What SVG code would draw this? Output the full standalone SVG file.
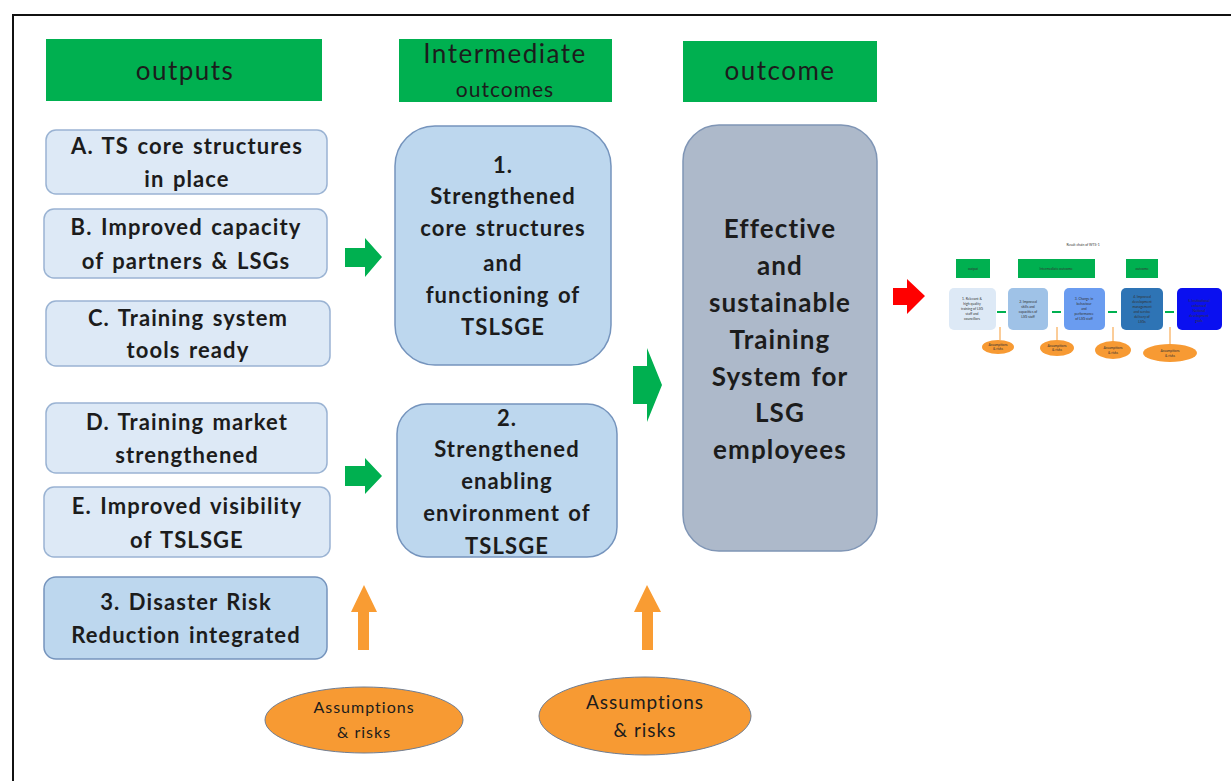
<svg xmlns="http://www.w3.org/2000/svg" width="1231" height="781" viewBox="0 0 1231 781">
  <style>
    .hdr { fill: #00b050; }
    .t { font-family: Lato, "Liberation Sans", sans-serif; fill: #1c1c1c; text-anchor: middle; }
    .b { font-weight: bold; letter-spacing: 1.1px; word-spacing: 2px; }
    .h { font-size: 26px; letter-spacing: 1.5px; }
    .out { fill: #dde9f6; stroke: #9ab3d3; stroke-width: 1.5; }
    .mid { fill: #bdd7ee; stroke: #7594bd; stroke-width: 1.5; }
    .gry { fill: #adb9ca; stroke: #7f95b5; stroke-width: 1.5; }
    .risk { fill: #f79a33; stroke: #6f7d92; stroke-width: 1; }
    .garrow { fill: #00b050; }
    .oarrow { fill: #f99c33; }
    .mini { font-family: Lato, "Liberation Sans", sans-serif; fill: #333; text-anchor: middle; font-size: 3.4px; }
  </style>

  <!-- frame -->
  <rect x="13" y="15" width="1230" height="780" fill="#fff" stroke="#111" stroke-width="2"/>

  <!-- column headers -->
  <g id="hdr-outputs">
    <rect class="hdr" x="46" y="39" width="276" height="62"/>
    <text class="t h" x="185" y="80">outputs</text>
  </g>
  <g id="hdr-intermediate">
    <rect class="hdr" x="399" y="39" width="213" height="63"/>
    <text class="t h" x="505" y="63">Intermediate</text>
    <text class="t" x="505" y="97" font-size="21" fill="#2a2a2a" letter-spacing="1">outcomes</text>
  </g>
  <g id="hdr-outcome">
    <rect class="hdr" x="683" y="41" width="194" height="61"/>
    <text class="t h" x="780" y="80">outcome</text>
  </g>

  <!-- outputs -->
  <g id="out-a">
    <rect class="out" x="46" y="130" width="281" height="64" rx="10"/>
    <text class="t b" x="187" y="154" font-size="22">A. TS core structures</text>
    <text class="t b" x="187" y="187" font-size="22">in place</text>
  </g>
  <g id="out-b">
    <rect class="out" x="44" y="209" width="283" height="69" rx="10"/>
    <text class="t b" x="186" y="235" font-size="22">B. Improved capacity</text>
    <text class="t b" x="186" y="269" font-size="22">of partners &amp; LSGs</text>
  </g>
  <g id="out-c">
    <rect class="out" x="46" y="301" width="284" height="65" rx="10"/>
    <text class="t b" x="188" y="326" font-size="22">C. Training system</text>
    <text class="t b" x="188" y="358" font-size="22">tools ready</text>
  </g>
  <g id="out-d">
    <rect class="out" x="46" y="403" width="281" height="70" rx="10"/>
    <text class="t b" x="187" y="430" font-size="22">D. Training market</text>
    <text class="t b" x="187" y="463" font-size="22">strengthened</text>
  </g>
  <g id="out-e">
    <rect class="out" x="44" y="487" width="286" height="70" rx="10"/>
    <text class="t b" x="187" y="514" font-size="22">E. Improved visibility</text>
    <text class="t b" x="187" y="548" font-size="22">of TSLSGE</text>
  </g>
  <g id="out-drr">
    <rect class="mid" x="44" y="577" width="283" height="82" rx="12"/>
    <text class="t b" x="186" y="610" font-size="22">3. Disaster Risk</text>
    <text class="t b" x="186" y="643" font-size="22">Reduction integrated</text>
  </g>

  <!-- intermediate outcomes -->
  <g id="im-1">
    <rect class="mid" x="395" y="126" width="216" height="239" rx="40"/>
    <text class="t b" x="503" y="173" font-size="22">1.</text>
    <text class="t b" x="503" y="204" font-size="22">Strengthened</text>
    <text class="t b" x="503" y="236" font-size="22">core structures</text>
    <text class="t b" x="503" y="271" font-size="22">and</text>
    <text class="t b" x="503" y="303" font-size="22">functioning of</text>
    <text class="t b" x="503" y="335" font-size="22">TSLSGE</text>
  </g>
  <g id="im-2">
    <rect class="mid" x="397" y="404" width="220" height="153" rx="30"/>
    <text class="t b" x="507" y="426" font-size="22">2.</text>
    <text class="t b" x="507" y="457" font-size="22">Strengthened</text>
    <text class="t b" x="507" y="489" font-size="22">enabling</text>
    <text class="t b" x="507" y="521" font-size="22">environment of</text>
    <text class="t b" x="507" y="554" font-size="22">TSLSGE</text>
  </g>

  <!-- outcome -->
  <g id="outcome">
    <rect class="gry" x="683" y="125" width="194" height="426" rx="36"/>
    <text class="t b" x="780" y="238" font-size="26">Effective</text>
    <text class="t b" x="780" y="275" font-size="26">and</text>
    <text class="t b" x="780" y="312" font-size="26">sustainable</text>
    <text class="t b" x="780" y="349" font-size="26">Training</text>
    <text class="t b" x="780" y="386" font-size="26">System for</text>
    <text class="t b" x="780" y="422" font-size="26">LSG</text>
    <text class="t b" x="780" y="459" font-size="26">employees</text>
  </g>

  <!-- assumptions -->
  <g id="risk-1">
    <ellipse class="risk" cx="364" cy="720" rx="99" ry="33"/>
    <text class="t" x="364" y="713" font-size="16" letter-spacing="1">Assumptions</text>
    <text class="t" x="364" y="738" font-size="16" letter-spacing="1">&amp; risks</text>
  </g>
  <g id="risk-2">
    <ellipse class="risk" cx="645" cy="716" rx="106" ry="39"/>
    <text class="t" x="645" y="709" font-size="19" letter-spacing="1">Assumptions</text>
    <text class="t" x="645" y="737" font-size="19" letter-spacing="1">&amp; risks</text>
  </g>

  <!-- block arrows -->
  <g id="connectors">
    <polygon class="garrow" points="345,248 365,248 365,238 382,257 365,277 365,267 345,267"/>
    <polygon class="garrow" points="345,466 365,466 365,458 382,476 365,494 365,486 345,486"/>
    <polygon class="garrow" points="633,366 647,366 647,348 662,385 647,422 647,404 633,404"/>
    <polygon class="oarrow" points="358,650 369,650 369,612 377,612 364,585 351,612 358,612"/>
    <polygon class="oarrow" points="642,650 653,650 653,612 661,612 647,585 634,612 642,612"/>
    <polygon fill="#ff0000" points="893,288 907,288 907,279 925,296 907,314 907,305 893,305"/>
  </g>

  <!-- inset: result chain overview -->
  <g id="inset">
    <text class="mini" x="1083" y="246" font-size="4.5px">Result chain of WTS-1</text>
    <rect class="hdr" x="956" y="259" width="34" height="19"/>
    <text class="mini" x="973" y="270">output</text>
    <rect class="hdr" x="1018" y="259" width="77" height="19"/>
    <text class="mini" x="1056" y="270">Intermediate outcome</text>
    <rect class="hdr" x="1126" y="259" width="32" height="19"/>
    <text class="mini" x="1142" y="270">outcome</text>

    <rect x="949" y="288" width="47" height="42" rx="5" fill="#dde9f6"/>
    <text class="mini" x="972" y="300">1. Relevant &amp;</text>
    <text class="mini" x="972" y="305">high quality</text>
    <text class="mini" x="972" y="310">training of LSG</text>
    <text class="mini" x="972" y="315">staff and</text>
    <text class="mini" x="972" y="320">councillors</text>
    <rect x="1008" y="288" width="40" height="42" rx="5" fill="#9fc2e7"/>
    <text class="mini" x="1028" y="303">2. Improved</text>
    <text class="mini" x="1028" y="308">skills and</text>
    <text class="mini" x="1028" y="313">capacities of</text>
    <text class="mini" x="1028" y="318">LSG staff</text>
    <rect x="1064" y="288" width="41" height="42" rx="5" fill="#6a9cf0"/>
    <text class="mini" x="1084" y="300">3. Change in</text>
    <text class="mini" x="1084" y="305">behaviour</text>
    <text class="mini" x="1084" y="310">and</text>
    <text class="mini" x="1084" y="315">performance</text>
    <text class="mini" x="1084" y="320">of LSG staff</text>
    <rect x="1121" y="288" width="42" height="42" rx="5" fill="#2e74b5"/>
    <text class="mini" x="1142" y="298">4. Improved</text>
    <text class="mini" x="1142" y="303">development</text>
    <text class="mini" x="1142" y="308">management</text>
    <text class="mini" x="1142" y="313">and service</text>
    <text class="mini" x="1142" y="318">delivery of</text>
    <text class="mini" x="1142" y="323">LSGs</text>
    <rect x="1177" y="288" width="45" height="42" rx="5" fill="#0a10f0"/>
    <text class="mini" x="1199" y="302">5. Institutional</text>
    <text class="mini" x="1199" y="307">enhanced</text>
    <text class="mini" x="1199" y="312">National</text>
    <text class="mini" x="1199" y="317">development</text>
    <text class="mini" x="1199" y="322">goals</text>

    <g fill="#00b050">
      <rect x="997" y="311" width="9" height="2"/>
      <rect x="1052" y="311" width="9" height="2"/>
      <rect x="1108" y="311" width="9" height="2"/>
      <rect x="1165" y="311" width="9" height="2"/>
    </g>
    <g stroke="#f79a33" stroke-width="1">
      <line x1="1000" y1="340" x2="1000" y2="327"/>
      <line x1="1057" y1="340" x2="1057" y2="327"/>
      <line x1="1113" y1="342" x2="1113" y2="327"/>
      <line x1="1170" y1="344" x2="1170" y2="327"/>
    </g>
    <ellipse cx="998" cy="347" rx="16" ry="7" fill="#f79a33"/>
    <text class="mini" x="998" y="346" font-size="3px">Assumptions</text>
    <text class="mini" x="998" y="350" font-size="3px">&amp; risks</text>
    <ellipse cx="1057" cy="348" rx="17" ry="8" fill="#f79a33"/>
    <text class="mini" x="1057" y="347" font-size="3px">Assumptions</text>
    <text class="mini" x="1057" y="351" font-size="3px">&amp; risks</text>
    <ellipse cx="1113" cy="350" rx="18" ry="9" fill="#f79a33"/>
    <text class="mini" x="1113" y="349">Assumptions</text>
    <text class="mini" x="1113" y="354">&amp; risks</text>
    <ellipse cx="1170" cy="353" rx="27" ry="9" fill="#f79a33"/>
    <text class="mini" x="1170" y="352">Assumptions</text>
    <text class="mini" x="1170" y="357">&amp; risks</text>
  </g>
</svg>
